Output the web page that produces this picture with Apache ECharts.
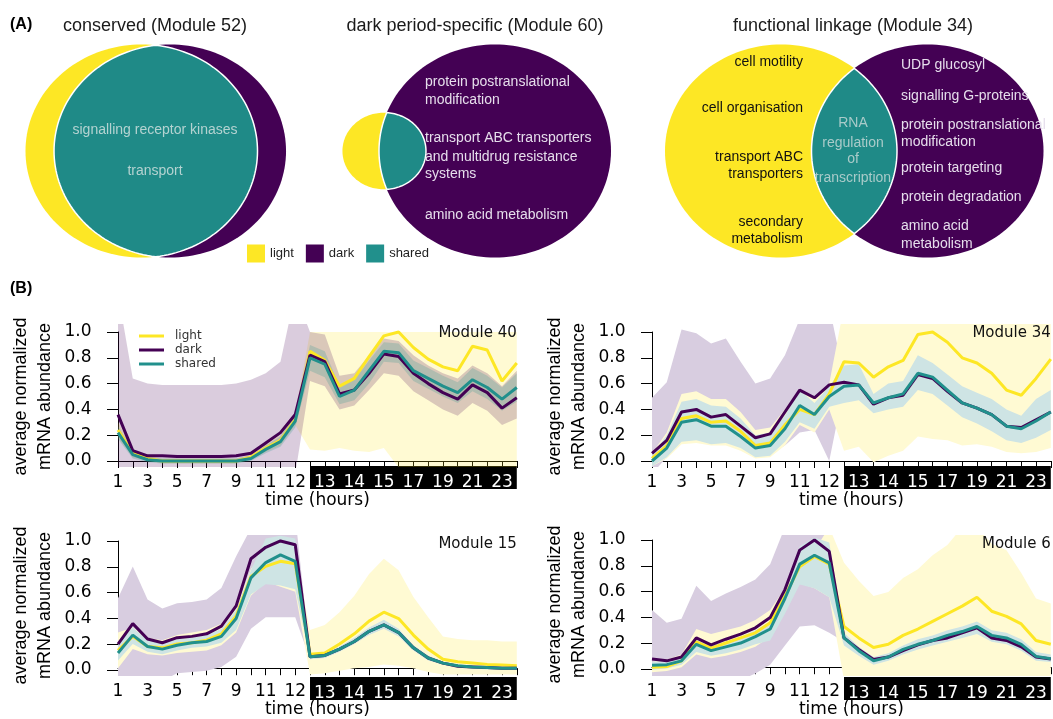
<!DOCTYPE html>
<html>
<head>
<meta charset="utf-8">
<script src="https://cdn.jsdelivr.net/npm/echarts@6.0.0/dist/echarts.min.js"></script>
<style>
  html, body { margin: 0; padding: 0; background: #fff; }
  #chart { width: 1053px; height: 719px; }
</style>
</head>
<body>
<div id="chart"></div>
<script>
// sampling times (hours); first dark-period sample is 12.5 h
const hours = ['1', '2', '3', '4', '5', '6', '7', '8', '9', '10', '11', '11.5', '12', '12.5',
  '13', '13.5', '14', '14.5', '15', '16', '17', '18', '19', '20', '21', '22', '23', '24'];
const darkStart = 13;

// Module 40
const m40Light = [0.24, 0.06, 0.02, 0.00, 0.00, 0.00, 0.00, 0.00, 0.00, 0.03, 0.10, 0.16, 0.32, 0.85, 0.78, 0.58, 0.64, 0.81, 0.97, 1.00, 0.88, 0.79, 0.73, 0.70, 0.89, 0.86, 0.62, 0.76];
const m40Dark = [0.36, 0.08, 0.04, 0.04, 0.035, 0.035, 0.035, 0.035, 0.04, 0.06, 0.14, 0.22, 0.36, 0.82, 0.77, 0.52, 0.55, 0.68, 0.83, 0.81, 0.68, 0.60, 0.53, 0.48, 0.59, 0.53, 0.41, 0.49];
const m40Shared = [0.22, 0.05, 0.01, 0.00, 0.00, 0.00, 0.00, 0.00, 0.00, 0.02, 0.09, 0.15, 0.31, 0.80, 0.75, 0.50, 0.55, 0.70, 0.85, 0.84, 0.70, 0.64, 0.58, 0.53, 0.63, 0.57, 0.48, 0.57];
const m40LightLo = [0.18, 0.03, 0.00, -0.02, -0.02, -0.02, -0.02, -0.02, -0.02, 0.01, 0.07, 0.12, 0.28, 0.09, 0.08, 0.10, 0.08, 0.07, 0.10, -0.05, -0.05, -0.05, -0.05, -0.05, -0.05, -0.05, -0.05, -0.05];
const m40LightHi = [0.30, 0.09, 0.04, 0.02, 0.02, 0.02, 0.02, 0.02, 0.02, 0.05, 0.13, 0.20, 0.36, 1.00, 1.00, 1.00, 1.00, 1.00, 1.00, 1.00, 1.00, 1.00, 1.00, 1.00, 1.00, 1.00, 1.00, 1.00];
const m40DarkLo = [-0.1, -0.1, -0.1, -0.1, -0.1, -0.1, -0.1, -0.1, -0.1, -0.1, -0.1, -0.1, -0.1, 0.62, 0.58, 0.40, 0.43, 0.55, 0.68, 0.66, 0.54, 0.47, 0.40, 0.35, 0.45, 0.39, 0.28, 0.33];
const m40DarkHi = [1.3, 0.64, 0.60, 0.59, 0.59, 0.59, 0.59, 0.59, 0.60, 0.63, 0.68, 0.77, 1.3, 1.00, 0.98, 0.66, 0.68, 0.82, 0.95, 0.93, 0.82, 0.74, 0.68, 0.64, 0.74, 0.68, 0.58, 0.70];
const m40SharedLo = [0.17, 0.02, -0.01, -0.02, -0.02, -0.02, -0.02, -0.02, -0.02, 0.00, 0.06, 0.11, 0.26, 0.70, 0.65, 0.44, 0.47, 0.60, 0.77, 0.76, 0.62, 0.56, 0.50, 0.45, 0.54, 0.48, 0.39, 0.46];
const m40SharedHi = [0.27, 0.08, 0.03, 0.02, 0.02, 0.02, 0.02, 0.02, 0.02, 0.04, 0.12, 0.19, 0.36, 0.90, 0.85, 0.58, 0.63, 0.78, 0.92, 0.91, 0.78, 0.72, 0.66, 0.61, 0.72, 0.66, 0.57, 0.68];

// Module 34
const m34Light = [0.02, 0.12, 0.33, 0.35, 0.30, 0.31, 0.23, 0.12, 0.14, 0.28, 0.40, 0.36, 0.52, 0.77, 0.76, 0.65, 0.73, 0.78, 0.98, 1.00, 0.92, 0.80, 0.76, 0.68, 0.55, 0.51, 0.64, 0.79];
const m34Dark = [0.06, 0.16, 0.38, 0.40, 0.34, 0.36, 0.27, 0.18, 0.21, 0.38, 0.55, 0.49, 0.59, 0.61, 0.59, 0.44, 0.49, 0.51, 0.67, 0.64, 0.54, 0.45, 0.41, 0.36, 0.27, 0.26, 0.32, 0.38];
const m34Shared = [0.00, 0.10, 0.30, 0.32, 0.27, 0.27, 0.19, 0.10, 0.12, 0.25, 0.43, 0.36, 0.50, 0.58, 0.59, 0.45, 0.49, 0.52, 0.68, 0.65, 0.55, 0.45, 0.41, 0.36, 0.27, 0.25, 0.31, 0.38];
const m34LightLo = [-0.04, 0.02, 0.13, 0.14, 0.12, 0.12, 0.08, 0.02, 0.03, 0.12, 0.28, 0.22, 0.40, 0.08, 0.11, -0.01, 0.04, 0.08, 0.19, 0.17, 0.16, 0.12, 0.13, 0.11, 0.07, 0.06, 0.07, 0.10];
const m34LightHi = [0.06, 0.22, 0.52, 0.54, 0.48, 0.48, 0.38, 0.24, 0.26, 0.40, 0.56, 0.48, 0.60, 1.2, 1.2, 1.2, 1.2, 1.2, 1.2, 1.2, 1.2, 1.2, 1.2, 1.2, 1.2, 1.2, 1.2, 1.2];
const m34DarkLo = [-0.10, 0.03, 0.15, 0.16, 0.14, 0.15, 0.10, 0.04, 0.05, 0.12, 0.22, 0.24, 0.00, 0.57, 0.55, 0.40, 0.45, 0.47, 0.63, 0.60, 0.50, 0.41, 0.37, 0.32, 0.23, 0.22, 0.28, 0.34];
const m34DarkHi = [0.49, 0.61, 1.02, 0.99, 0.91, 0.95, 0.77, 0.60, 0.64, 0.82, 1.10, 1.20, 1.20, 0.65, 0.63, 0.48, 0.53, 0.55, 0.71, 0.68, 0.58, 0.49, 0.45, 0.40, 0.31, 0.30, 0.36, 0.42];
const m34SharedLo = [-0.04, 0.03, 0.15, 0.16, 0.13, 0.14, 0.10, 0.03, 0.04, 0.15, 0.30, 0.25, 0.42, 0.45, 0.47, 0.37, 0.40, 0.42, 0.55, 0.52, 0.43, 0.34, 0.29, 0.23, 0.16, 0.14, 0.18, 0.24];
const m34SharedHi = [0.05, 0.20, 0.46, 0.48, 0.43, 0.42, 0.33, 0.20, 0.22, 0.35, 0.55, 0.45, 0.58, 0.74, 0.75, 0.52, 0.60, 0.62, 0.82, 0.76, 0.67, 0.58, 0.53, 0.48, 0.40, 0.35, 0.48, 0.55];

// Module 15
const m15Light = [0.14, 0.25, 0.17, 0.16, 0.19, 0.20, 0.22, 0.27, 0.41, 0.72, 0.80, 0.84, 0.82, 0.11, 0.12, 0.19, 0.27, 0.37, 0.44, 0.39, 0.26, 0.15, 0.07, 0.05, 0.04, 0.03, 0.025, 0.02];
const m15Dark = [0.19, 0.35, 0.23, 0.20, 0.24, 0.25, 0.27, 0.33, 0.49, 0.86, 0.95, 1.00, 0.97, 0.09, 0.10, 0.15, 0.21, 0.29, 0.34, 0.28, 0.16, 0.08, 0.04, 0.015, 0.01, 0.005, 0.00, 0.00];
const m15Shared = [0.12, 0.26, 0.17, 0.15, 0.18, 0.20, 0.21, 0.25, 0.39, 0.71, 0.83, 0.89, 0.84, 0.09, 0.10, 0.15, 0.21, 0.29, 0.34, 0.28, 0.16, 0.08, 0.04, 0.02, 0.01, 0.005, 0.00, 0.00];
const m15LightLo = [0.00, 0.15, 0.11, 0.10, 0.12, 0.13, 0.14, 0.18, 0.28, 0.57, 0.68, 0.64, 0.60, -0.05, -0.04, -0.02, 0.00, 0.01, 0.03, 0.02, 0.00, -0.03, -0.05, -0.05, -0.05, -0.05, -0.05, -0.05];
const m15LightHi = [0.28, 0.32, 0.24, 0.22, 0.26, 0.28, 0.30, 0.35, 0.48, 0.78, 0.92, 0.95, 0.90, 0.30, 0.34, 0.44, 0.57, 0.74, 0.86, 0.77, 0.56, 0.40, 0.25, 0.23, 0.22, 0.22, 0.21, 0.21];
const m15DarkLo = [-0.10, -0.10, -0.10, -0.10, -0.04, -0.03, -0.02, 0.01, 0.09, 0.31, 0.40, 0.40, 0.40, 0.07, 0.08, 0.13, 0.19, 0.27, 0.32, 0.26, 0.14, 0.06, 0.02, 0.00, -0.01, -0.01, -0.01, -0.01];
const m15DarkHi = [0.55, 0.80, 0.54, 0.47, 0.51, 0.52, 0.54, 0.63, 0.88, 1.10, 1.20, 1.20, 1.20, 0.11, 0.12, 0.17, 0.23, 0.31, 0.36, 0.30, 0.18, 0.10, 0.06, 0.03, 0.02, 0.015, 0.01, 0.01];
const m15SharedLo = [0.06, 0.19, 0.13, 0.11, 0.14, 0.16, 0.17, 0.20, 0.30, 0.58, 0.66, 0.65, 0.62, 0.07, 0.08, 0.13, 0.19, 0.26, 0.31, 0.25, 0.14, 0.06, 0.03, 0.01, 0.00, -0.01, -0.01, -0.01];
const m15SharedHi = [0.20, 0.32, 0.22, 0.20, 0.23, 0.24, 0.26, 0.31, 0.46, 0.77, 1.02, 1.04, 1.02, 0.11, 0.12, 0.17, 0.24, 0.32, 0.38, 0.31, 0.18, 0.10, 0.05, 0.03, 0.02, 0.015, 0.01, 0.01];

// Module 6
const m6Light = [0.00, 0.005, 0.05, 0.20, 0.15, 0.19, 0.23, 0.27, 0.35, 0.56, 0.79, 0.87, 0.81, 0.32, 0.23, 0.155, 0.18, 0.25, 0.30, 0.36, 0.42, 0.48, 0.55, 0.44, 0.40, 0.34, 0.21, 0.18];
const m6Dark = [0.065, 0.05, 0.08, 0.23, 0.175, 0.22, 0.26, 0.31, 0.39, 0.61, 0.92, 1.00, 0.91, 0.23, 0.14, 0.06, 0.08, 0.13, 0.175, 0.21, 0.23, 0.27, 0.31, 0.23, 0.21, 0.16, 0.08, 0.065];
const m6Shared = [0.015, 0.02, 0.05, 0.18, 0.13, 0.16, 0.19, 0.24, 0.30, 0.54, 0.81, 0.88, 0.82, 0.23, 0.13, 0.05, 0.08, 0.14, 0.18, 0.21, 0.25, 0.28, 0.32, 0.25, 0.23, 0.18, 0.085, 0.067];
const m6LightLo = [-0.04, -0.03, 0.00, 0.10, 0.07, 0.09, 0.12, 0.16, 0.24, 0.45, 0.66, 0.62, 0.55, -0.1, -0.1, -0.1, -0.1, -0.1, -0.1, -0.1, -0.1, -0.1, -0.1, -0.1, -0.1, -0.1, -0.1, -0.1];
const m6LightHi = [0.04, 0.06, 0.10, 0.30, 0.26, 0.29, 0.32, 0.37, 0.45, 0.62, 0.88, 0.92, 1.10, 0.82, 0.68, 0.56, 0.59, 0.70, 0.77, 0.88, 0.96, 1.10, 1.10, 0.97, 0.92, 0.74, 0.54, 0.50];
const m6DarkLo = [-0.10, -0.10, -0.10, -0.10, -0.10, -0.10, -0.10, -0.05, 0.02, 0.17, 0.32, 0.33, 0.27, 0.20, 0.11, 0.04, 0.06, 0.10, 0.15, 0.18, 0.20, 0.24, 0.28, 0.20, 0.18, 0.13, 0.06, 0.045];
const m6DarkHi = [0.45, 0.35, 0.38, 0.64, 0.52, 0.58, 0.63, 0.69, 0.81, 1.10, 1.20, 1.20, 1.20, 0.26, 0.17, 0.08, 0.10, 0.16, 0.20, 0.24, 0.26, 0.30, 0.34, 0.26, 0.24, 0.19, 0.10, 0.085];
const m6SharedLo = [-0.02, -0.01, 0.02, 0.12, 0.09, 0.11, 0.14, 0.18, 0.21, 0.42, 0.65, 0.62, 0.55, 0.17, 0.09, 0.02, 0.05, 0.10, 0.14, 0.17, 0.20, 0.23, 0.26, 0.20, 0.18, 0.13, 0.05, 0.04];
const m6SharedHi = [0.04, 0.05, 0.08, 0.22, 0.17, 0.20, 0.24, 0.29, 0.36, 0.60, 0.95, 1.02, 0.98, 0.27, 0.16, 0.08, 0.11, 0.17, 0.22, 0.25, 0.29, 0.32, 0.36, 0.29, 0.27, 0.22, 0.12, 0.10];

// Venn geometry (radius 1 = larger set), one entry per diagram
const vennTitles = ['conserved (Module 52)', 'dark period-specific (Module 60)', 'functional linkage (Module 34)'];
const vennLightX = [0, -0.955, 0];
const vennLightR = [1, 0.36, 1];
const vennDarkX = [0.246, 0, 1.263];
const vennDarkR = [1, 1, 1];

const modules = [
  { name: 'Module 40', light: m40Light, dark: m40Dark, shared: m40Shared, lightLo: m40LightLo, lightHi: m40LightHi, darkLo: m40DarkLo, darkHi: m40DarkHi, sharedLo: m40SharedLo, sharedHi: m40SharedHi },
  { name: 'Module 34', light: m34Light, dark: m34Dark, shared: m34Shared, lightLo: m34LightLo, lightHi: m34LightHi, darkLo: m34DarkLo, darkHi: m34DarkHi, sharedLo: m34SharedLo, sharedHi: m34SharedHi },
  { name: 'Module 15', light: m15Light, dark: m15Dark, shared: m15Shared, lightLo: m15LightLo, lightHi: m15LightHi, darkLo: m15DarkLo, darkHi: m15DarkHi, sharedLo: m15SharedLo, sharedHi: m15SharedHi },
  { name: 'Module 6', light: m6Light, dark: m6Dark, shared: m6Shared, lightLo: m6LightLo, lightHi: m6LightHi, darkLo: m6DarkLo, darkHi: m6DarkHi, sharedLo: m6SharedLo, sharedHi: m6SharedHi }
];

// pixel layout of the four line panels
const layout = [
  { x: 118, top: 325, axis: 466, y1: 332, y0: 461 },
  { x: 652, top: 325, axis: 466, y1: 332, y0: 461 },
  { x: 118, top: 536, axis: 677, y1: 541, y0: 670 },
  { x: 652, top: 536, axis: 677, y1: 540, y0: 669 }
];
const step = 14.77;

// Module 40 panel uses translucent ranges, the other three flat pale fills
const bandLook = [
  { order: ['light', 'dark', 'shared'], color: { light: 'rgba(253,231,37,0.2)', dark: 'rgba(68,1,84,0.2)', shared: 'rgba(33,144,140,0.22)' } },
  { order: ['dark', 'light', 'shared'], color: { dark: '#d8cde0', light: '#fffad3', shared: '#cee4e4' } },
  { order: ['dark', 'light', 'shared'], color: { dark: '#d8cde0', light: '#fffad3', shared: '#cee4e4' } },
  { order: ['dark', 'light', 'shared'], color: { dark: '#d8cde0', light: '#fffad3', shared: '#cee4e4' } }
];

const YELLOW = '#FDE725', PURPLE = '#440154', TEAL = '#21908C';
const FB = '"DejaVu Sans", sans-serif';
const FA = '"Liberation Sans", Arial, sans-serif';

const grid = [], xAxis = [], yAxis = [], series = [], graphic = [];

function txt(x, y, text, style) {
  const s = Object.assign({ text: text, fill: '#111', font: '14px ' + FA, align: 'left', verticalAlign: 'middle' }, style || {});
  s.textAlign = s.align;
  s.textVerticalAlign = s.verticalAlign;
  graphic.push({ type: 'text', x: x, y: y, z: 100, silent: true, style: s });
}

modules.forEach(function (m, p) {
  const L = layout[p];
  const W = step * (hours.length - 1);
  const span = L.y0 - L.y1;
  const gi = grid.length;

  // main plotting area
  grid.push({ left: L.x, top: L.top, width: W, height: L.axis - L.top });
  xAxis.push({
    gridIndex: gi, type: 'category', data: hours, boundaryGap: false,
    axisLine: { lineStyle: { color: '#000', width: 1 } },
    axisTick: { interval: 0, length: 7, lineStyle: { color: '#000' } },
    axisLabel: { interval: function (i) { return i < darkStart && i % 2 === 0; }, margin: 8, color: '#000', fontFamily: FB, fontSize: 17 },
    splitLine: { show: false },
    name: 'time (hours)', nameLocation: 'middle', nameGap: 24,
    nameTextStyle: { color: '#000', fontFamily: FB, fontSize: 17 }
  });
  yAxis.push({ gridIndex: gi, type: 'value', min: -(L.axis - L.y0) / span, max: 1 + (L.y1 - L.top) / span, show: false, splitLine: { show: false } });

  // y axis drawn only over 0..1
  grid.push({ left: L.x, top: L.y1, width: W, height: span });
  xAxis.push({ gridIndex: gi + 1, type: 'value', show: false, splitLine: { show: false } });
  yAxis.push({
    gridIndex: gi + 1, type: 'value', min: 0, max: 1, interval: 0.2, offset: 13.5,
    axisLine: { show: true, lineStyle: { color: '#000' } },
    axisTick: { show: true, length: 11, lineStyle: { color: '#000' } },
    axisLabel: { margin: 13, color: '#000', fontFamily: FB, fontSize: 17, formatter: function (v) { return v.toFixed(1); } },
    splitLine: { show: false },
    name: 'average normalized\nmRNA abundance', nameLocation: 'middle', nameGap: 47,
    nameTextStyle: { color: '#000', fontFamily: FA, fontSize: 18, lineHeight: 24 }
  });

  // black dark-period strip under the axis
  grid.push({ left: L.x + step * darkStart, top: L.axis, width: step * (hours.length - 1 - darkStart), height: 23, show: true, backgroundColor: '#000', borderWidth: 0 });
  xAxis.push({
    gridIndex: gi + 2, type: 'category', data: hours.slice(darkStart), boundaryGap: false, position: 'top',
    axisLine: { show: false },
    axisTick: { show: true, inside: true, interval: 0, length: 7, lineStyle: { color: '#fff' } },
    axisLabel: { inside: true, interval: function (i) { return (i + darkStart) % 2 === 0; }, margin: 8, color: '#fff', fontFamily: FB, fontSize: 17 },
    splitLine: { show: false }
  });
  yAxis.push({ gridIndex: gi + 2, type: 'value', show: false, splitLine: { show: false } });

  // ranges
  const bounds = { light: [m.lightLo, m.lightHi], dark: [m.darkLo, m.darkHi], shared: [m.sharedLo, m.sharedHi] };
  bandLook[p].order.forEach(function (key) {
    const lo = bounds[key][0], hi = bounds[key][1];
    const stack = key + 'band' + p;
    series.push({
      type: 'line', name: key + ' lower', xAxisIndex: gi, yAxisIndex: gi, data: lo,
      stack: stack, stackStrategy: 'all', symbol: 'none', lineStyle: { opacity: 0 }, silent: true, z: 1
    });
    series.push({
      type: 'line', name: key + ' range', xAxisIndex: gi, yAxisIndex: gi,
      data: hi.map(function (v, i) { return +(v - lo[i]).toFixed(4); }),
      stack: stack, stackStrategy: 'all', symbol: 'none', lineStyle: { opacity: 0 },
      areaStyle: { color: bandLook[p].color[key], opacity: 1 }, silent: true, z: 1
    });
  });

  // mean profiles
  [['light', m.light, YELLOW], ['dark', m.dark, PURPLE], ['shared', m.shared, TEAL]].forEach(function (l) {
    series.push({
      type: 'line', name: l[0], xAxisIndex: gi, yAxisIndex: gi, data: l[1], color: l[2],
      symbol: 'none', lineStyle: { width: 3, color: l[2] }, silent: true, z: 3
    });
  });

  txt(L.x + W, L.top + 8, m.name, { font: '15px ' + FB, fill: '#111', align: 'right' });
});

// Venn diagrams
const vennLayout = [
  { left: 2.3, xmin: -1.2, xmax: 1.5 },
  { left: 321, xmin: -1.5, xmax: 1.2 },
  { left: 641.8, xmin: -1.2, xmax: 2.3 }
];
const unitX = 116, unitY = 106.5, vennCy = 151;

function ellipsePts(api, cx, r) {
  const pts = [];
  for (let i = 0; i < 160; i++) {
    const t = i / 160 * 2 * Math.PI;
    pts.push(api.coord([cx + r * Math.cos(t), r * Math.sin(t)]));
  }
  return pts;
}
function lensPts(api, ax, ar, bx, br) {
  let c1 = ax, r1 = ar, c2 = bx, r2 = br;
  if (c1 > c2) { c1 = bx; r1 = br; c2 = ax; r2 = ar; }
  const d = c2 - c1;
  const a = (d * d + r1 * r1 - r2 * r2) / (2 * d);
  const h = Math.sqrt(r1 * r1 - a * a);
  const tA = Math.atan2(h, a), tB = Math.atan2(h, d - a);
  const pts = [], n = 80;
  for (let i = 0; i <= n; i++) {
    const t = -tA + 2 * tA * i / n;
    pts.push(api.coord([c1 + r1 * Math.cos(t), r1 * Math.sin(t)]));
  }
  for (let i = 0; i <= n; i++) {
    const t = Math.PI - tB + 2 * tB * i / n;
    pts.push(api.coord([c2 + r2 * Math.cos(t), r2 * Math.sin(t)]));
  }
  return pts;
}

vennTitles.forEach(function (title, k) {
  const V = vennLayout[k];
  const gi = grid.length;
  grid.push({ left: V.left, top: vennCy - 1.25 * unitY, width: (V.xmax - V.xmin) * unitX, height: 2.5 * unitY });
  xAxis.push({ gridIndex: gi, type: 'value', min: V.xmin, max: V.xmax, show: false, splitLine: { show: false } });
  yAxis.push({ gridIndex: gi, type: 'value', min: -1.25, max: 1.25, show: false, splitLine: { show: false } });
  series.push({
    type: 'custom', name: 'venn' + k, xAxisIndex: gi, yAxisIndex: gi, silent: true,
    data: [[0, 0], [0, 0], [0, 0]],
    renderItem: function (params, api) {
      const i = params.dataIndex;
      if (i === 0) {
        return { type: 'polygon', z2: 0, shape: { points: ellipsePts(api, vennLightX[k], vennLightR[k]) }, style: { fill: YELLOW } };
      }
      if (i === 1) {
        return { type: 'polygon', z2: 1, shape: { points: ellipsePts(api, vennDarkX[k], vennDarkR[k]) }, style: { fill: PURPLE } };
      }
      return {
        type: 'polygon', z2: 2,
        shape: { points: lensPts(api, vennLightX[k], vennLightR[k], vennDarkX[k], vennDarkR[k]) },
        style: { fill: '#1F8A87', stroke: '#fff', lineWidth: 1.5 }
      };
    }
  });
});

// panel texts
txt(10, 25, '(A)', { font: 'bold 16px ' + FA, fill: '#000' });
txt(10, 289, '(B)', { font: 'bold 16px ' + FA, fill: '#000' });
txt(155, 26, vennTitles[0], { font: '18px ' + FA, fill: '#1a1a1a', align: 'center' });
txt(475, 26, vennTitles[1], { font: '18px ' + FA, fill: '#1a1a1a', align: 'center' });
txt(853, 26, vennTitles[2], { font: '18px ' + FA, fill: '#1a1a1a', align: 'center' });

const shareCol = '#b4d3d1', darkCol = '#e6deec';
txt(155, 130, 'signalling receptor kinases', { fill: shareCol, align: 'center' });
txt(155, 171, 'transport', { fill: shareCol, align: 'center' });

[['protein postranslational', 82], ['modification', 100], ['transport ABC transporters', 138],
 ['and multidrug resistance', 157], ['systems', 174], ['amino acid metabolism', 215]].forEach(function (t) {
  txt(425, t[1], t[0], { fill: darkCol });
});

[['cell motility', 62], ['cell organisation', 108], ['transport ABC', 157], ['transporters', 174],
 ['secondary', 222], ['metabolism', 239]].forEach(function (t) {
  txt(803, t[1], t[0], { fill: '#111', align: 'right' });
});
[['RNA', 123], ['regulation', 143], ['of', 159], ['transcription', 178]].forEach(function (t) {
  txt(853, t[1], t[0], { fill: '#a9cbc9', align: 'center' });
});
[['UDP glucosyl', 65], ['signalling G-proteins', 96], ['protein postranslational', 125], ['modification', 142],
 ['protein targeting', 168], ['protein degradation', 197], ['amino acid', 226], ['metabolism', 244]].forEach(function (t) {
  txt(901, t[1], t[0], { fill: darkCol });
});

const chart = echarts.init(document.getElementById('chart'), null, { renderer: 'canvas' });
chart.setOption({
  animation: false,
  backgroundColor: '#fff',
  grid: grid,
  xAxis: xAxis,
  yAxis: yAxis,
  legend: [
    {
      data: ['light', 'dark', 'shared'], left: 242, top: 239.5, orient: 'horizontal', icon: 'rect',
      itemWidth: 18, itemHeight: 18, itemGap: 12, selectedMode: false,
      itemStyle: { borderWidth: 0 },
      textStyle: { fontFamily: FA, fontSize: 13, color: '#222' }
    },
    {
      data: ['light', 'dark', 'shared'], left: 134, top: 324, orient: 'vertical', icon: 'rect',
      itemWidth: 25, itemHeight: 3, itemGap: 0, selectedMode: false,
      itemStyle: { borderWidth: 0 },
      textStyle: { fontFamily: FB, fontSize: 12, color: '#333', lineHeight: 14, padding: [0, 0, 0, 6] }
    }
  ],
  series: series,
  graphic: graphic
});
</script>
</body>
</html>
